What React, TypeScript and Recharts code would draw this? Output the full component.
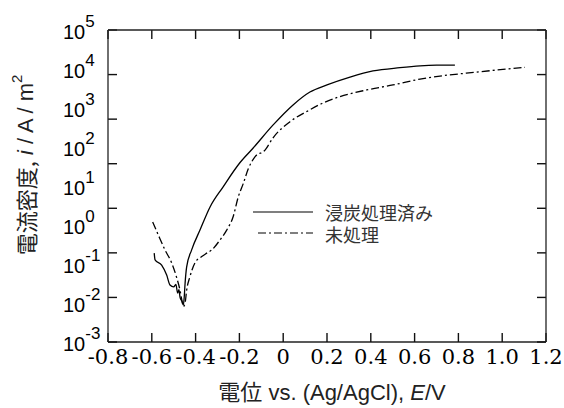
import React from "react";
import { LineChart, Line, XAxis, YAxis, Legend } from "recharts";

// carburized (solid)
const CARB_E = [-0.589, -0.585, -0.555, -0.532, -0.517, -0.5, -0.49, -0.482, -0.476, -0.471, -0.462, -0.456, -0.452, -0.448, -0.441, -0.418, -0.38, -0.334, -0.275, -0.197, -0.138, -0.047, 0.045, 0.122, 0.2, 0.305, 0.41, 0.533, 0.625, 0.7, 0.784];
const CARB_I = [0.19, 0.127, 0.094, 0.052, 0.029, 0.026, 0.03, 0.018, 0.022, 0.014, 0.011, 0.0089, 0.014, 0.032, 0.083, 0.23, 0.74, 2.9, 9.4, 40, 93, 363, 1200, 2570, 3900, 6170, 8900, 10800, 12000, 12500, 12600];

// untreated (dash-dot)
const RAW_E = [-0.596, -0.57, -0.54, -0.509, -0.486, -0.471, -0.463, -0.456, -0.448, -0.441, -0.426, -0.403, -0.372, -0.349, -0.326, -0.289, -0.258, -0.229, -0.205, -0.182, -0.159, -0.129, -0.083, -0.047, 0.031, 0.107, 0.182, 0.259, 0.381, 0.501, 0.625, 0.899, 1.104];
const RAW_I = [1.2, 0.55, 0.23, 0.106, 0.044, 0.021, 0.012, 0.0081, 0.01, 0.021, 0.047, 0.107, 0.155, 0.19, 0.23, 0.41, 0.74, 1.6, 5.3, 11.7, 28, 56, 83, 170, 445, 810, 1350, 1960, 2900, 3900, 5500, 8500, 11000];

const X_TICKS = [-0.8, -0.6, -0.4, -0.2, 0, 0.2, 0.4, 0.6, 0.8, 1.0, 1.2];
const Y_TICKS = [1e-3, 1e-2, 1e-1, 1e0, 1e1, 1e2, 1e3, 1e4, 1e5];
// the original's side tick marks sit in 7 equal steps, not on the labelled decades
const FRAME_STEPS = [0, 1, 2, 3, 4, 5, 6, 7];

const X_MIN = -0.8;
const X_MAX = 1.2;
const PLOT_TOP = 30;
const TICK_LEN = 9;
const TICK_W = 1.4;

const carbData = CARB_E.map((e, k) => ({ e, i: CARB_I[k] }));
const rawData = RAW_E.map((e, k) => ({ e, i: RAW_I[k] }));

const AXIS = { stroke: "#222", strokeWidth: 1.3 };
const SANS = "Liberation Sans, Arial, sans-serif";
const SERIF = "DejaVu Serif, Liberation Serif, serif";
const JP = "Noto Sans CJK JP, sans-serif";
const DASHDOT = "8 3 2 3";

const powTick = (p: any) => {
  const exp = Math.round(Math.log10(p.payload.value));
  return (
    <text key={`yt-${p.index}`} x={p.x - 45} y={p.y + 9} fontFamily={SANS} fontSize={20} fill="#000">
      <tspan>10</tspan>
      <tspan dy={-12} fontSize={17}>{exp}</tspan>
    </text>
  );
};

const eTick = (p: any) => (
  <text key={`xt-${p.index}`} x={p.x} y={p.y + 22} textAnchor="middle" style={{ fontFamily: SERIF }} fontSize={21} fill="#000">
    {p.payload.value === 0 ? "0" : p.payload.value.toFixed(1)}
  </text>
);

const YTitle = ({ viewBox }: any) => {
  const cy = viewBox.y + viewBox.height / 2 - 21;
  return (
    <text
      x={25}
      y={cy}
      transform={`rotate(-90 25 ${cy})`}
      textAnchor="middle"
      dominantBaseline="central"
      fontFamily={JP}
      fontSize={22}
      fill="#222"
    >
      電流密度,
      <tspan fontFamily={SANS} fontStyle="italic"> i</tspan>
      <tspan fontFamily={SANS}> / A / m</tspan>
      <tspan fontFamily={SANS} fontSize={15} dy={-9}>2</tspan>
    </text>
  );
};

// x-axis title plus the inward frame tick marks (thin filled rects), placed from the axis box
const XTitle = ({ viewBox }: any) => {
  const left = viewBox.x;
  const right = viewBox.x + viewBox.width;
  const bottom = viewBox.y;
  const px = (t: number) => left + ((t - X_MIN) / (X_MAX - X_MIN)) * viewBox.width;
  const py = (s: number) => bottom - ((bottom - PLOT_TOP) * s) / 7;
  const h = TICK_W / 2;
  const marks: React.ReactNode[] = [];
  X_TICKS.forEach((t, k) => {
    marks.push(<rect key={`b${k}`} x={px(t) - h} y={bottom - TICK_LEN} width={TICK_W} height={TICK_LEN} />);
    marks.push(<rect key={`t${k}`} x={px(t) - h} y={PLOT_TOP} width={TICK_W} height={TICK_LEN} />);
  });
  FRAME_STEPS.forEach((s, k) => {
    marks.push(<rect key={`l${k}`} x={left} y={py(s) - h} width={TICK_LEN} height={TICK_W} />);
    marks.push(<rect key={`r${k}`} x={right - TICK_LEN} y={py(s) - h} width={TICK_LEN} height={TICK_W} />);
  });
  return (
    <g>
      <g fill="#111">{marks}</g>
      <text x={left + viewBox.width / 2 + 5} y={400} textAnchor="middle" fontFamily={JP} fontSize={22} fill="#222">
        電位
        <tspan fontFamily={SANS}> vs. (Ag/AgCl), </tspan>
        <tspan fontFamily={SANS} fontStyle="italic">E</tspan>
        <tspan fontFamily={SANS}>/V</tspan>
      </text>
    </g>
  );
};

const LegendBox = () => (
  <svg width={220} height={50}>
    <line x1={3} x2={63} y1={12} y2={12} stroke="#000" strokeWidth={1.2} />
    <text x={75} y={12} dominantBaseline="central" fontFamily={JP} fontSize={18} fill="#333">
      浸炭処理済み
    </text>
    <line x1={8} x2={63} y1={33} y2={33} stroke="#000" strokeWidth={1.2} strokeDasharray={DASHDOT} />
    <text x={75} y={34} dominantBaseline="central" fontFamily={JP} fontSize={18} fill="#333">
      未処理
    </text>
  </svg>
);

export default function App() {
  return (
    <div style={{ position: "absolute", left: 0, top: 0, background: "#fff" }}>
      <LineChart width={564} height={408} margin={{ top: PLOT_TOP, right: 18, bottom: 0, left: 0 }}>
        <XAxis
          xAxisId="x"
          dataKey="e"
          type="number"
          domain={[X_MIN, X_MAX]}
          ticks={X_TICKS}
          allowDataOverflow
          height={66}
          axisLine={AXIS}
          tickLine={false}
          tickSize={0}
          tickMargin={0}
          interval={0}
          tick={eTick}
          label={<XTitle />}
        />
        <XAxis
          xAxisId="xt"
          orientation="top"
          type="number"
          domain={[X_MIN, X_MAX]}
          mirror
          axisLine={AXIS}
          tickLine={false}
          tick={false}
        />
        <YAxis
          yAxisId="y"
          dataKey="i"
          type="number"
          scale="log"
          domain={[1e-3, 1e5]}
          ticks={Y_TICKS}
          allowDataOverflow
          width={108}
          axisLine={AXIS}
          tickLine={false}
          tickSize={0}
          tickMargin={0}
          interval={0}
          tick={powTick}
          label={<YTitle />}
        />
        <YAxis
          yAxisId="yr"
          orientation="right"
          type="number"
          domain={[0, 7]}
          mirror
          axisLine={AXIS}
          tickLine={false}
          tick={false}
        />
        <Legend
          layout="vertical"
          align="center"
          verticalAlign="middle"
          content={<LegendBox />}
          wrapperStyle={{ left: 250, top: 200, width: 220, height: 50 }}
        />
        <Line
          xAxisId="x"
          yAxisId="y"
          data={carbData}
          dataKey="i"
          name="浸炭処理済み"
          type="monotoneX"
          stroke="#000"
          strokeWidth={1.3}
          dot={false}
          isAnimationActive={false}
        />
        <Line
          xAxisId="x"
          yAxisId="y"
          data={rawData}
          dataKey="i"
          name="未処理"
          type="monotoneX"
          stroke="#000"
          strokeWidth={1.3}
          strokeDasharray={DASHDOT}
          dot={false}
          isAnimationActive={false}
        />
      </LineChart>
    </div>
  );
}
